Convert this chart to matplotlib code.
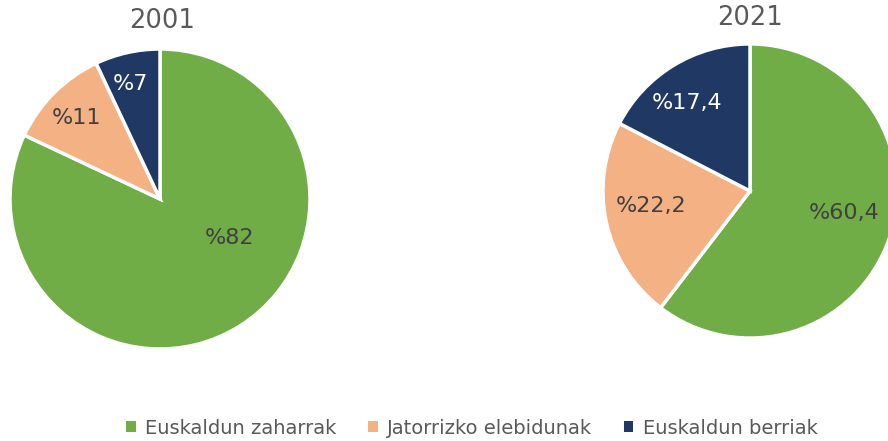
import matplotlib.pyplot as plt
from matplotlib.patches import Patch

# Données
categories = ['Euskaldun zaharrak', 'Jatorrizko elebidunak', 'Euskaldun berriak']
years = ['2001', '2021']
values_2001 = [82, 11, 7]
values_2021 = [60.4, 22.2, 17.4]
labels_2001 = ['%82', '%11', '%7']
labels_2021 = ['%60,4', '%22,2', '%17,4']

colors = ['#70AD47', '#F4B183', '#203864']
text_colors = ['#404040', '#404040', 'white']
grey = '#595959'

W, H = 888, 441
fig = plt.figure(figsize=(W / 100, H / 100), dpi=100)


def pie_axes(cx, cy, r):
    # axes carré en pixels, centré sur (cx, cy) (origine en haut)
    return fig.add_axes([(cx - r) / W, (H - cy - r) / H, 2 * r / W, 2 * r / H])


def draw_pie(ax, values, labels, label_pos):
    ax.pie(values, colors=colors, startangle=90, counterclock=False,
           wedgeprops=dict(edgecolor='white', linewidth=2.5))
    ax.set_xlim(-1.02, 1.02)
    ax.set_ylim(-1.02, 1.02)
    ax.axis('off')
    for lab, pos, tc in zip(labels, label_pos, text_colors):
        ax.text(pos[0], pos[1], lab, ha='center', va='center',
                fontsize=16, color=tc)


ax1 = pie_axes(160, 199, 153)
draw_pie(ax1, values_2001, labels_2001,
         [(0.46, -0.26), (-0.56, 0.54), (-0.2, 0.77)])

ax2 = pie_axes(750, 191, 150)
draw_pie(ax2, values_2021, labels_2021,
         [(0.64, -0.15), (-0.67, -0.1), (-0.43, 0.6)])

# Titres
fig.text(162 / W, 1 - 21 / H, years[0], ha='center', va='center',
         fontsize=18.5, color=grey)
fig.text(750 / W, 1 - 18 / H, years[1], ha='center', va='center',
         fontsize=18.5, color=grey)

# Légende
handles = [Patch(facecolor=c, edgecolor='none') for c in colors]
fig.legend(handles, categories, loc='center', ncol=3,
           bbox_to_anchor=(472 / W, 1 - 428 / H), frameon=False,
           fontsize=14, labelcolor=grey, handlelength=0.5, handleheight=0.5,
           handletextpad=0.5, columnspacing=1.6)

fig.savefig('out.png', dpi=100)
